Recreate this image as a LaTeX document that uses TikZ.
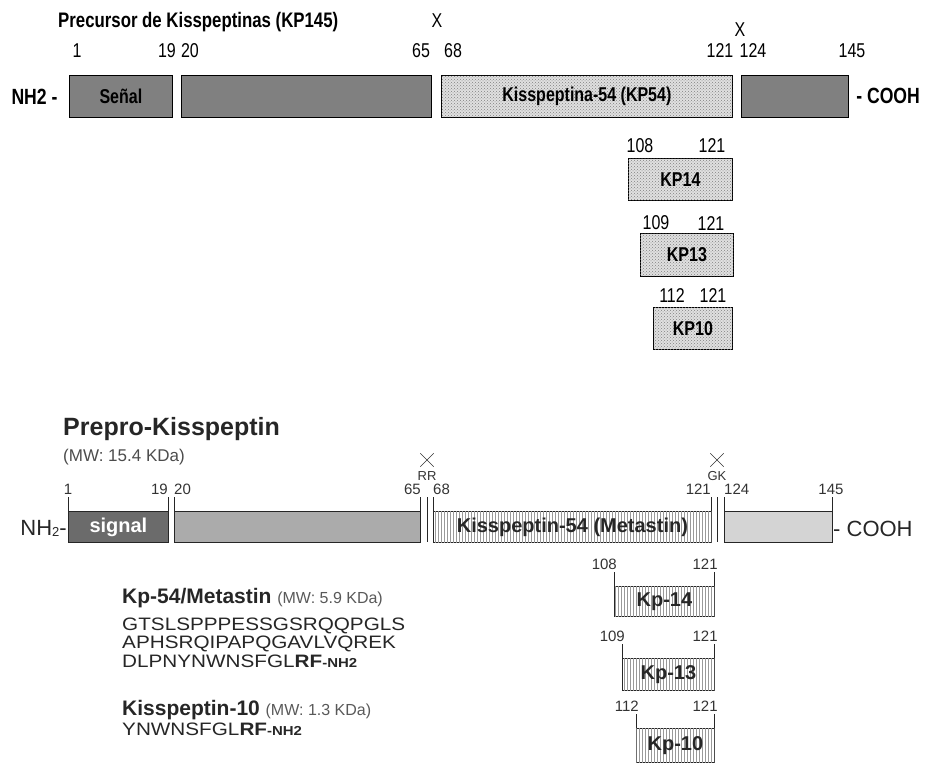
\documentclass[tikz,border=0pt]{standalone}
\usepackage{fontspec}
\setmainfont{Liberation Sans}
\newfontfamily\narrowfont[FakeStretch=0.8]{Liberation Sans}
\newfontfamily\widefont[FakeStretch=1.15]{Liberation Sans}
\usetikzlibrary{positioning,patterns,shapes.misc}

\tikzset{
  box/.style={draw, line width=0.8pt, inner sep=0pt, anchor=north west, minimum height=42},
  darkbox/.style={box, fill=black!50},
  dotbox/.style={box, fill=black!12, postaction={pattern=crosshatch dots, pattern color=black!50}},
  num/.style={font=\narrowfont\fontsize{20}{20}\selectfont, anchor=base, inner sep=0pt},
  lbl/.style={font=\narrowfont\bfseries\fontsize{20}{20}\selectfont},
  bar/.style={draw=black!85, line width=0.8pt, inner sep=0pt, anchor=north west, minimum height=31},
  stripes/.style={fill=white, postaction={pattern=vertical lines, pattern color=black!40}},
  bnum/.style={font=\fontsize{15}{15}\selectfont, text=black!80, inner sep=0pt},
  cut/.style={cross out, draw=black!80, minimum width=13, minimum height=13, inner sep=0pt},
  seq/.style={font=\widefont\fontsize{18}{18}\selectfont, text=black!85, anchor=base west, inner sep=0pt},
}

\begin{document}
\begin{tikzpicture}[x=1pt,y=-1pt]
    \useasboundingbox (0,0) rectangle (929,765);

    % precursor (top)
    \node[lbl, font=\narrowfont\bfseries\fontsize{21}{21}\selectfont, anchor=base west, inner sep=0pt] (title) at (58,28) {Precursor de Kisspeptinas (KP145)};
    \node[num] (x1) at (437,28) {X};
    \node[num] (x2) at (740,37) {X};
    \foreach \x/\t in {77/1,167/19,190/20,421/65,453/68,720/121,753/124,852/145}
        \node[num] (p\t) at (\x,58) {\t};

    \node[darkbox, minimum width=103, lbl] (senal) at (69,75) {Señal};
    \node[darkbox, minimum width=250] (pro) at (181,75) {};
    \node[dotbox, minimum width=291, lbl] (kp54) at (441,75) {Kisspeptina-54 (KP54)};
    \node[darkbox, minimum width=107] (cterm) at (741,75) {};
    \node[lbl, font=\narrowfont\bfseries\fontsize{22}{22}\selectfont, left=8pt of senal] (nh) {NH2 -};
    \node[lbl, font=\narrowfont\bfseries\fontsize{22}{22}\selectfont, right=4pt of cterm] (cooh) {- COOH};

    % fragments
    \node[dotbox, minimum width=104, lbl] (kp14) at (628,158) {KP14};
    \node[dotbox, minimum width=93, minimum height=43, lbl] (kp13) at (640,233) {KP13};
    \node[dotbox, minimum width=79, lbl] (kp10) at (653,307) {KP10};
    \foreach \x/\y/\t/\n in {640/153/108/a,712/153/121/b,656/229/109/c,711/230/121/d,672/302/112/e,713/302/121/f}
        \node[num] (f\n) at (\x,\y) {\t};

    % prepro-kisspeptin (bottom)
    \node[anchor=base west, inner sep=0pt, font=\bfseries\fontsize{25}{25}\selectfont, text=black!85] (prepro) at (63,435) {Prepro-Kisspeptin};
    \node[anchor=base west, inner sep=0pt, font=\fontsize{17}{17}\selectfont, text=black!70] (mw) at (63,461) {(MW: 15.4 KDa)};

    \node[bar, fill=black!58, minimum width=100, text=white, font=\bfseries\fontsize{20}{20}\selectfont] (signal) at (68,511) {signal};
    \node[bar, fill=black!33, minimum width=246] (mid) at (174,511) {};
    \node[bar, stripes, minimum width=278, font=\bfseries\fontsize{20}{20}\selectfont, text=black!85] (meta) at (433,511) {Kisspeptin-54 (Metastin)};
    \node[bar, fill=black!17, minimum width=108] (tail) at (724,511) {};
    \foreach \b in {signal,mid,meta,tail} {
        \draw[black!85, line width=0.8pt] (\b.north west) -- ++(0,-14);
        \draw[black!85, line width=0.8pt] (\b.north east) -- ++(0,-14);
    }
    \draw[black!85, line width=0.8pt] (427,497) -- (427,542);
    \draw[black!85, line width=0.8pt] (717,497) -- (717,542);

    \node[bnum, anchor=base] (b1) at (68,494) {1};
    \node[bnum, anchor=base east] (b19) at (168,494) {19};
    \node[bnum, anchor=base west] (b20) at (174,494) {20};
    \node[bnum, anchor=base east] (b65) at (421,494) {65};
    \node[bnum, anchor=base west] (b68) at (433,494) {68};
    \node[bnum, anchor=base east] (b121) at (711,494) {121};
    \node[bnum, anchor=base west] (b124) at (724,494) {124};
    \node[bnum, anchor=base] (b145) at (831,494) {145};

    \node[cut] (rr) at (427,460) {};
    \node[bnum, anchor=base, font=\fontsize{13}{13}\selectfont] (rrt) at (427,480) {RR};
    \node[cut] (gk) at (717,460) {};
    \node[bnum, anchor=base, font=\fontsize{13}{13}\selectfont] (gkt) at (717,480) {GK};

    \node[anchor=base east, inner sep=0pt, font=\fontsize{22}{22}\selectfont, text=black!85] (nh2) at (67,535) {NH\raisebox{-1pt}{\fontsize{13}{13}\selectfont 2}-};
    \node[anchor=base west, inner sep=0pt, font=\fontsize{22}{22}\selectfont, text=black!85] (cooh2) at (833,536) {- COOH};

    % peptides
    \node[bar, stripes, minimum width=100, minimum height=30, font=\bfseries\fontsize{20}{20}\selectfont, text=black!85] (k14) at (614,586) {Kp-14};
    \node[bar, stripes, minimum width=92, minimum height=32, font=\bfseries\fontsize{20}{20}\selectfont, text=black!85] (k13) at (622,658) {Kp-13};
    \node[bar, stripes, minimum width=78, minimum height=34, font=\bfseries\fontsize{20}{20}\selectfont, text=black!85] (k10) at (636,728) {Kp-10};
    \foreach \k/\l in {k14/108,k13/109,k10/112} {
        \draw[black!85, line width=0.8pt] (\k.north west) -- ++(0,-14);
        \draw[black!85, line width=0.8pt] (\k.north east) -- ++(0,-14);
        \node[bnum, anchor=base east] (\k l) at ([shift={(3,-17)}]\k.north west) {\l};
        \node[bnum, anchor=base east] (\k r) at ([shift={(3,-17)}]\k.north east) {121};
    }

    \node[seq] (t54) at (122,603) {{\fontsize{21}{21}\selectfont\normalfont\bfseries Kp-54/Metastin} {\normalfont\fontsize{16}{16}\selectfont\color{black!65}(MW: 5.9 KDa)}};
    \node[seq] (s1) at (122,630) {GTSLSPPPESSGSRQQPGLS};
    \node[seq] (s2) at (122,648) {APHSRQIPAPQGAVLVQREK};
    \node[seq] (s3) at (122,667) {DLPNYNWNSFGL\textbf{RF}{\bfseries\fontsize{13}{13}\selectfont -NH2}};
    \node[seq] (t10) at (122,715) {{\fontsize{21}{21}\selectfont\normalfont\bfseries Kisspeptin-10} {\normalfont\fontsize{16}{16}\selectfont\color{black!65}(MW: 1.3 KDa)}};
    \node[seq] (s4) at (122,735) {YNWNSFGL\textbf{RF}{\bfseries\fontsize{13}{13}\selectfont -NH2}};
\end{tikzpicture}
\end{document}
